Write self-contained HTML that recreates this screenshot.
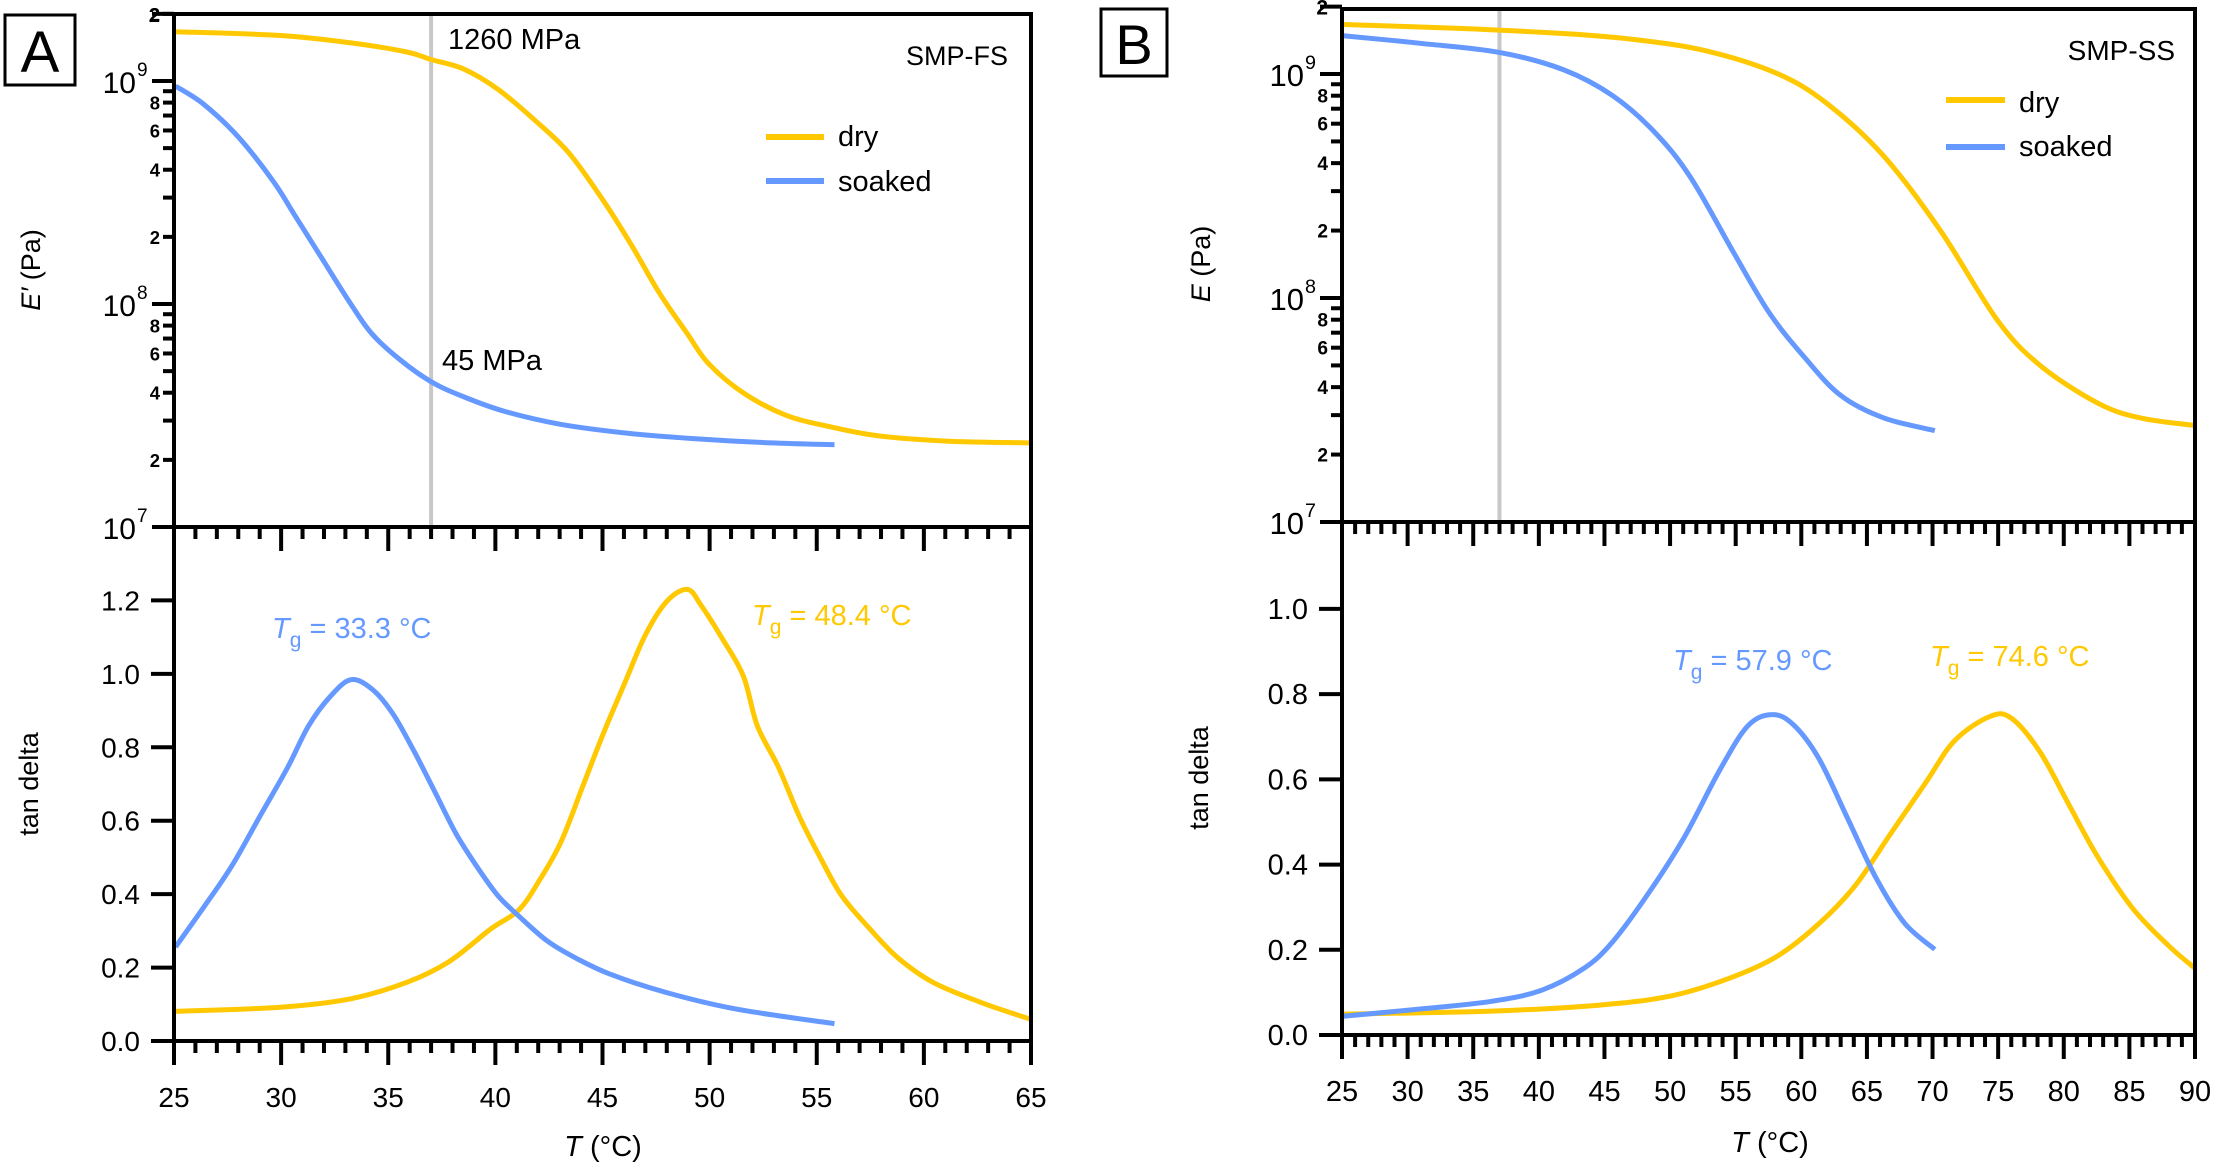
<!DOCTYPE html>
<html>
<head>
<meta charset="utf-8">
<style>
html,body{margin:0;padding:0;background:#fff;}
svg{display:block;font-family:"Liberation Sans",sans-serif;}
</style>
</head>
<body>
<svg id="fig" width="2217" height="1167" viewBox="0 0 2217 1167" xmlns="http://www.w3.org/2000/svg"></svg>
<script>
// ---------- Panel A data (SMP-FS) ----------
const aDryET = [25.07,29.98,33.25,35.87,37.01,38.49,40.12,41.76,43.4,45.03,46.34,47.65,48.96,49.94,51.58,53.54,55.5,57.8,61.07,65];
const aDryELog = [9.221,9.204,9.171,9.130,9.096,9.055,8.963,8.831,8.681,8.465,8.266,8.050,7.867,7.734,7.601,7.502,7.452,7.410,7.385,7.377];
const aSoakET = [25.07,26.37,28.01,29.65,30.63,31.94,33.25,34.23,35.54,37.01,38.49,40.45,43.07,46.34,49.62,52.89,55.83];
const aSoakELog = [8.977,8.897,8.748,8.548,8.399,8.199,8.0,7.867,7.751,7.651,7.585,7.518,7.460,7.419,7.394,7.377,7.369];
const aSoakTanT = [25.07,26.37,27.68,28.99,30.30,31.28,32.27,33.25,34.23,35.21,36.19,37.18,38.16,39.14,40.12,41.10,42.41,43.72,45.36,47.98,51.25,55.83];
const aSoakTan = [0.256,0.363,0.475,0.610,0.745,0.858,0.937,0.984,0.959,0.892,0.791,0.678,0.565,0.475,0.396,0.340,0.273,0.227,0.182,0.132,0.087,0.047];
const aDryTanT = [25.07,29.98,33.25,35.87,37.83,39.80,41.10,42.09,43.07,44.05,45.03,46.01,47.0,47.98,48.96,49.62,50.60,51.58,52.23,53.22,54.20,55.18,56.16,57.47,58.78,60.42,62.71,65];
const aDryTan = [0.081,0.092,0.115,0.160,0.216,0.306,0.357,0.441,0.543,0.689,0.836,0.971,1.106,1.196,1.230,1.185,1.095,0.993,0.858,0.745,0.610,0.498,0.396,0.306,0.227,0.160,0.104,0.059];
const aXTicks = [25,30,35,40,45,50,55,60,65];
const aTanTicks = [0.0,0.2,0.4,0.6,0.8,1.0,1.2];
// ---------- Panel B data (SMP-SS) ----------
const bDryET = [25.1,33.69,41.83,47.26,52.69,58.12,61.92,66.26,70.60,74.95,78.20,82.55,85.80,89.98];
const bDryELog = [9.221,9.204,9.181,9.154,9.104,9.003,8.870,8.635,8.301,7.900,7.699,7.532,7.465,7.431];
const bSoakET = [25.1,30.97,36.94,41.83,45.63,48.89,51.60,54.86,57.57,60.29,63.0,66.26,70.17];
const bSoakELog = [9.171,9.137,9.097,9.020,8.903,8.736,8.535,8.201,7.933,7.732,7.565,7.465,7.408];
const bSoakTanT = [25.1,30.97,36.4,40.2,43.46,45.63,48.34,51.06,53.77,55.94,57.84,59.47,61.37,63.55,65.72,67.89,70.17];
const bSoakTan = [0.044,0.061,0.079,0.105,0.157,0.219,0.332,0.463,0.621,0.726,0.752,0.726,0.647,0.507,0.367,0.262,0.201];
const bDryTanT = [25.1,36.4,44.54,49.97,54.32,58.12,61.37,64.09,66.80,69.52,71.69,74.40,76.03,78.20,80.37,82.55,85.26,87.97,89.98];
const bDryTan = [0.049,0.056,0.070,0.091,0.131,0.184,0.262,0.350,0.472,0.594,0.691,0.748,0.743,0.664,0.542,0.420,0.297,0.210,0.157];
const bXTicks = [25,30,35,40,45,50,55,60,65,70,75,80,85,90];
const bTanTicks = [0.0,0.2,0.4,0.6,0.8,1.0];

const NS = "http://www.w3.org/2000/svg";
const fig = document.getElementById('fig');
const YEL = "#FFC800", BLU = "#6699FF";
function mk(tag, attrs, parent){const e=document.createElementNS(NS,tag);for(const k in attrs)e.setAttribute(k,attrs[k]);(parent||fig).appendChild(e);return e;}
function txt(s, attrs, parent){const e=mk('text',attrs,parent);e.textContent=s;return e;}

function smoothPath(P){
  let d='M'+P[0][0].toFixed(1)+','+P[0][1].toFixed(1);
  for(let i=0;i<P.length-1;i++){
    const p0=P[Math.max(0,i-1)],p1=P[i],p2=P[i+1],p3=P[Math.min(P.length-1,i+2)];
    const c1x=p1[0]+(p2[0]-p0[0])/6,c1y=p1[1]+(p2[1]-p0[1])/6;
    const c2x=p2[0]-(p3[0]-p1[0])/6,c2y=p2[1]-(p3[1]-p1[1])/6;
    d+='C'+c1x.toFixed(1)+','+c1y.toFixed(1)+' '+c2x.toFixed(1)+','+c2y.toFixed(1)+' '+p2[0].toFixed(1)+','+p2[1].toFixed(1);
  }
  return d;
}

function panel(cfg){
  const g = mk('g',{});
  
  
  const L=cfg.left,R=cfg.right,T=cfg.top,M=cfg.mid,B=cfg.bottom;
  const x = t => L + (t - cfg.xmin)/(cfg.xmax - cfg.xmin)*(R-L);
  const yE = lg => M - (lg - 7)*cfg.decade;
  const yT = v => B - v/cfg.tanMax*(B-M);
  const fs = cfg.fs;
  const gl = mk('line',{x1:x(37),x2:x(37),y1:T,y2:M,stroke:'#c8c8c8','stroke-width':4},g);
  
  
  function curve(xs, ys, yf, col, nm){
    const P=xs.map((t,i)=>[x(t),yf(ys[i])]);
    const p = mk('path',{d:smoothPath(P),fill:'none',stroke:col,'stroke-width':5,'stroke-linejoin':'round','stroke-linecap':'butt'},g);
    
    
  }
  curve(cfg.dryET,cfg.dryELog,yE,YEL,'modulus-dry-line');
  curve(cfg.soakET,cfg.soakELog,yE,BLU,'modulus-soaked-line');
  curve(cfg.dryTanT,cfg.dryTan,yT,YEL,'tan-delta-dry-line');
  curve(cfg.soakTanT,cfg.soakTan,yT,BLU,'tan-delta-soaked-line');
  const fr = mk('rect',{x:L,y:T,width:R-L,height:B-T,fill:'none',stroke:'#000','stroke-width':4},g);
  
  
  const ml = mk('line',{x1:L-22,x2:R,y1:M,y2:M,stroke:'#000','stroke-width':4},g);
  
  
  for(let t=cfg.xmin;t<=cfg.xmax;t++){
    const maj = (t%5===0);
    const len = maj?24:12;
    mk('line',{x1:x(t),x2:x(t),y1:M,y2:M+len,stroke:'#000','stroke-width':4},g);
    mk('line',{x1:x(t),x2:x(t),y1:B,y2:B+len,stroke:'#000','stroke-width':4},g);
  }
  cfg.xTicks.forEach(t=>{
    const e = txt(String(t),{x:x(t),y:cfg.xLabY,'font-size':fs,'text-anchor':'middle'},g);
    
    
  });
  for(let dec=7; dec<=9; dec++){
    for(let m=1;m<=9;m++){
      const lg = dec+Math.log10(m);
      const yy = yE(lg);
      if(yy < T-1) break;
      const maj = m===1;
      mk('line',{x1:L-(maj?22:11),x2:L,y1:yy,y2:yy,stroke:'#000','stroke-width':4},g);
      if(maj){
        const e = txt('10',{x:L-38,y:yy+12,'font-size':fs+2,'text-anchor':'end'},g);
        
        
        const s = txt(String(dec),{x:L-37,y:yy-5,'font-size':fs*0.68,'text-anchor':'start'},g);
        
        
      } else if(m%2===0){
        const e = txt(String(m),{x:L-14,y:yy+7,'font-size':fs*0.66,'text-anchor':'end','font-weight':'bold'},g);
        
        
      }
    }
  }
  mk('line',{x1:L-22,x2:L,y1:yE(9.301),y2:yE(9.301),stroke:'#000','stroke-width':4},g);
  const t2 = txt('2',{x:L-14,y:yE(9.301)+8,'font-size':fs*0.72,'text-anchor':'end','font-weight':'bold'},g);
  
  
  cfg.tanTicks.forEach(v=>{
    const yy=yT(v);
    mk('line',{x1:L-23,x2:L,y1:yy,y2:yy,stroke:'#000','stroke-width':4},g);
    const e = txt(v.toFixed(1),{x:L-34,y:yy+10,'font-size':fs,'text-anchor':'end'},g);
    
    
  });
  return {g,x,yE,yT};
}

const A = panel({name:'panel-a',left:174,right:1031,top:14,mid:527,bottom:1041,xmin:25,xmax:65,decade:223,tanMax:1.4,fs:28,xLabY:1107,
  dryET:aDryET,dryELog:aDryELog,soakET:aSoakET,soakELog:aSoakELog,dryTanT:aDryTanT,dryTan:aDryTan,soakTanT:aSoakTanT,soakTan:aSoakTan,xTicks:aXTicks,tanTicks:aTanTicks});
const Bp = panel({name:'panel-b',left:1342,right:2195,top:9,mid:522,bottom:1035,xmin:25,xmax:90,decade:224,tanMax:1.204,fs:29,xLabY:1101,
  dryET:bDryET,dryELog:bDryELog,soakET:bSoakET,soakELog:bSoakELog,dryTanT:bDryTanT,dryTan:bDryTan,soakTanT:bSoakTanT,soakTan:bSoakTan,xTicks:bXTicks,tanTicks:bTanTicks});

function label(s, attrs, name){const e=txt(s,attrs);return e;}
function box(x,y,w,h,name){const r=mk('rect',{x:x,y:y,width:w,height:h,fill:'#fff',stroke:'#000','stroke-width':3});return r;}
box(5,15,70,70,'panel-a-box');
label('A',{x:40,y:72,'font-size':58,'text-anchor':'middle'},'panel-a-letter');
box(1101,9,66,67,'panel-b-box');
label('B',{x:1134,y:64,'font-size':56,'text-anchor':'middle'},'panel-b-letter');

label('1260 MPa',{x:448,y:49,'font-size':29},'annotation-1260-mpa');
label('45 MPa',{x:442,y:370,'font-size':29},'annotation-45-mpa');
label('SMP-FS',{x:1008,y:65,'font-size':27,'text-anchor':'end'},'sample-label-fs');
label('SMP-SS',{x:2175,y:60,'font-size':28,'text-anchor':'end'},'sample-label-ss');

function legend(x1,x2,y,tx,ty,col,s,name){
  const l=mk('line',{x1:x1,x2:x2,y1:y,y2:y,stroke:col,'stroke-width':6});
  
  
  label(s,{x:tx,y:ty,'font-size':29},name+'-label');
}
legend(766,824,137,838,146,YEL,'dry','legend-a-dry');
legend(766,824,181,838,191,BLU,'soaked','legend-a-soaked');
legend(1946,2005,100,2019,112,YEL,'dry','legend-b-dry');
legend(1946,2005,147,2019,156,BLU,'soaked','legend-b-soaked');

function tg(x,y,col,val,name){
  const e=mk('text',{x:x,y:y,'font-size':29,fill:col});
  
  
  const a=mk('tspan',{'font-style':'italic'},e);a.textContent='T';
  const b=mk('tspan',{dy:9,'font-size':21},e);b.textContent='g';
  const c=mk('tspan',{dy:-9},e);c.textContent=' = '+val+' °C';
}
tg(272,638,BLU,'33.3','tg-label-a-soaked');
tg(752,625,YEL,'48.4','tg-label-a-dry');
tg(1673,670,BLU,'57.9','tg-label-b-soaked');
tg(1930,666,YEL,'74.6','tg-label-b-dry');

function ytitle(x,y,parts,name){
  const e=mk('text',{x:x,y:y,'font-size':27,'text-anchor':'middle',transform:'rotate(-90 '+x+' '+y+')'});
  
  
  parts.forEach(p=>{const s=mk('tspan',p[1]?{'font-style':'italic'}:{},e);s.textContent=p[0];});
}
ytitle(40,270,[["E′",true],[" (Pa)",false]],'y-axis-title-a-modulus');
ytitle(38,784,[["tan delta",false]],'y-axis-title-a-tan');
ytitle(1210,264,[["E",true],[" (Pa)",false]],'y-axis-title-b-modulus');
ytitle(1208,778,[["tan delta",false]],'y-axis-title-b-tan');
function xtitle(x,y,name){
  const e=mk('text',{x:x,y:y,'font-size':29,'text-anchor':'middle'});
  
  
  const a=mk('tspan',{'font-style':'italic'},e);a.textContent='T';
  const b=mk('tspan',{},e);b.textContent=' (°C)';
}
xtitle(603,1156,'x-axis-title-a');
xtitle(1770,1152,'x-axis-title-b');
</script>
</body>
</html>
